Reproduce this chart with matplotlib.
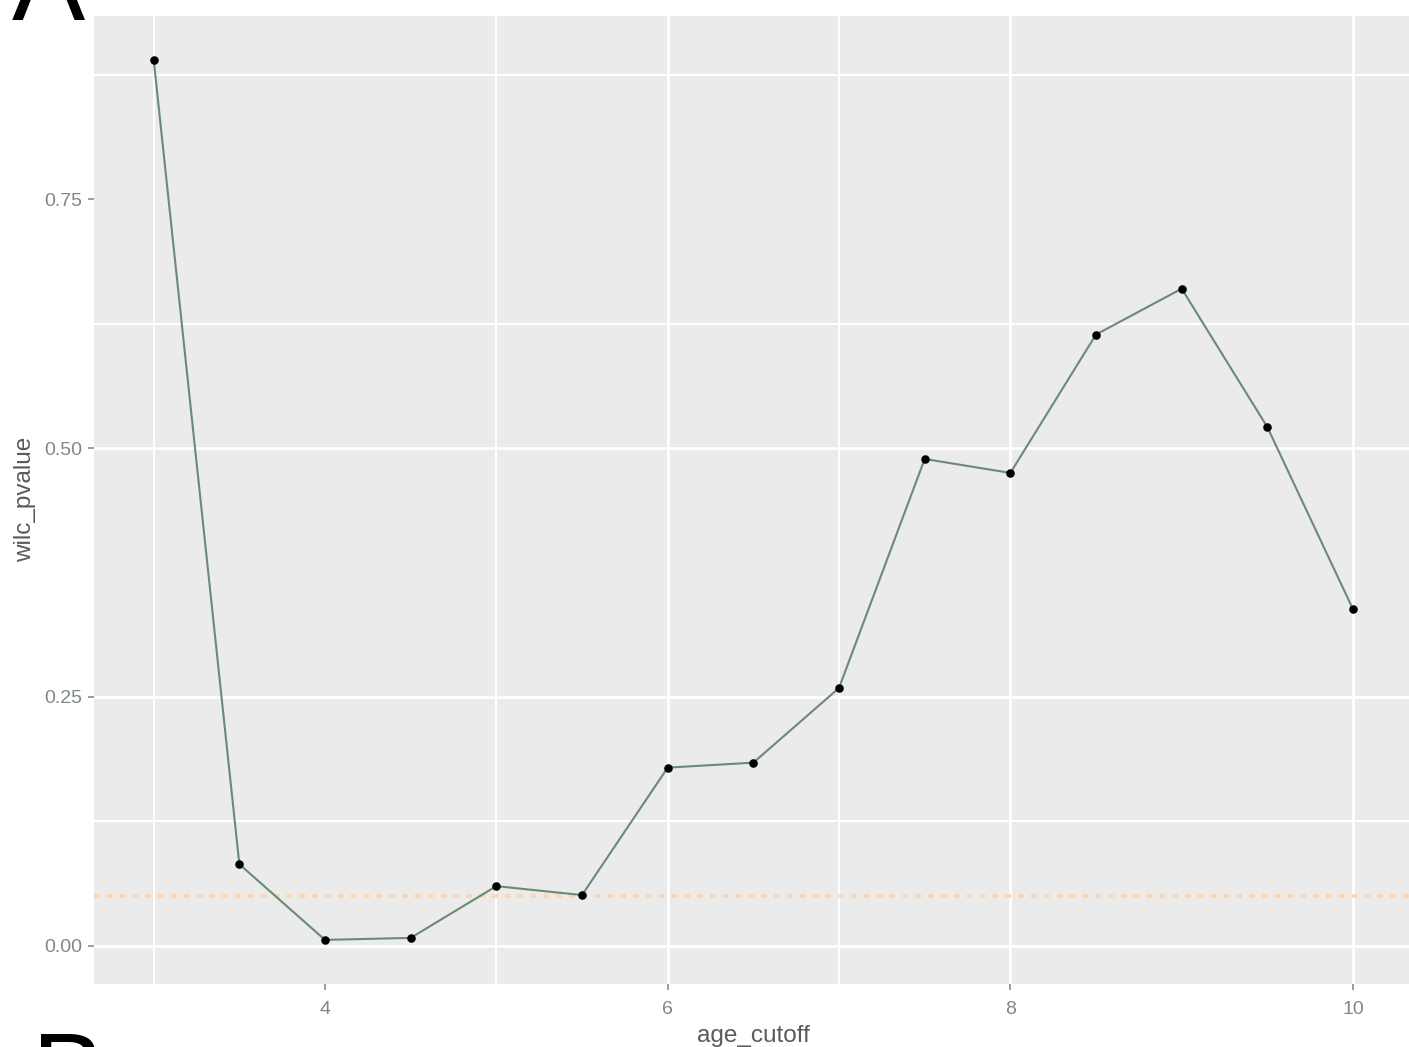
import matplotlib
matplotlib.use("Agg")
import matplotlib.pyplot as plt

# Wilcoxon p-value as a function of the age cutoff
age_cutoff = [3.0, 3.5, 4.0, 4.5, 5.0, 5.5, 6.0, 6.5, 7.0, 7.5, 8.0, 8.5, 9.0, 9.5, 10.0]
wilc_pvalue = [0.890, 0.082, 0.006, 0.008, 0.060, 0.051, 0.179, 0.184, 0.259,
               0.489, 0.475, 0.614, 0.660, 0.521, 0.338]
significance_level = 0.05

x_ticks = [4, 6, 8, 10]
y_ticks = [0.00, 0.25, 0.50, 0.75]
y_tick_labels = ["0.00", "0.25", "0.50", "0.75"]

# grid lines drawn on the panel
x_grid = [3, 5, 6, 7, 8, 10]
y_grid = [0.00, 0.125, 0.25, 0.50, 0.625, 0.875]

plt.rcParams["font.family"] = ["Liberation Sans", "DejaVu Sans"]

W, H = 1409, 1047
fig = plt.figure(figsize=(W / 100, H / 100), dpi=100)

# panel placement in pixels
left_px, right_px = 93.7, 1413.0
top_px, bottom_px = 15.7, 983.9
ax = fig.add_axes([left_px / W, 1 - bottom_px / H,
                   (right_px - left_px) / W, (bottom_px - top_px) / H])

ax.set_facecolor("#EBEBEB")
for s in ax.spines.values():
    s.set_visible(False)

xmin, xmax = min(age_cutoff), max(age_cutoff)
ymin, ymax = min(wilc_pvalue), max(wilc_pvalue)
xpad = 0.05 * (xmax - xmin)
ypad = 0.05 * (ymax - ymin)
ax.set_xlim(xmin - xpad, xmax + xpad)
ax.set_ylim(ymin - ypad, ymax + ypad)

for gx in x_grid:
    lw = 2.0 if gx in x_ticks else 1.5
    ax.axvline(gx, color="white", lw=lw, zorder=0.5)
for gy in y_grid:
    lw = 2.0 if gy in y_ticks else 1.5
    ax.axhline(gy, color="white", lw=lw, zorder=0.5)

ax.axhline(significance_level, color="#FFD6B2", lw=2.8,
           linestyle=(0, (1.5, 1.8)), zorder=1)

ax.plot(age_cutoff, wilc_pvalue, color="#6B8A76", lw=1.5, zorder=2)
ax.scatter(age_cutoff, wilc_pvalue, s=38, color="black", zorder=3, linewidths=0)

ax.set_xticks(x_ticks)
ax.set_xticklabels([str(t) for t in x_ticks])
ax.set_yticks(y_ticks)
ax.set_yticklabels(y_tick_labels)
ax.tick_params(axis="both", colors="#8A8A8A", labelcolor="#7E8A80",
               labelsize=14, length=4, width=1.2)
ax.tick_params(axis="x", pad=8)
ax.tick_params(axis="y", pad=4)

ax.set_xlabel("age_cutoff", fontsize=17.5, color="#5A5A5A", labelpad=5)
ax.set_ylabel("wilc_pvalue", fontsize=17.5, color="#5A5A5A", labelpad=6)

# panel letters
fig.text(12 / W, 1 - 20 / H, "A", fontsize=79, color="black",
         ha="left", va="baseline")
fig.text(32 / W, 1 - 1109 / H, "B", fontsize=79, color="black",
         ha="left", va="baseline")

fig.savefig("out.png", dpi=100, facecolor="white")
